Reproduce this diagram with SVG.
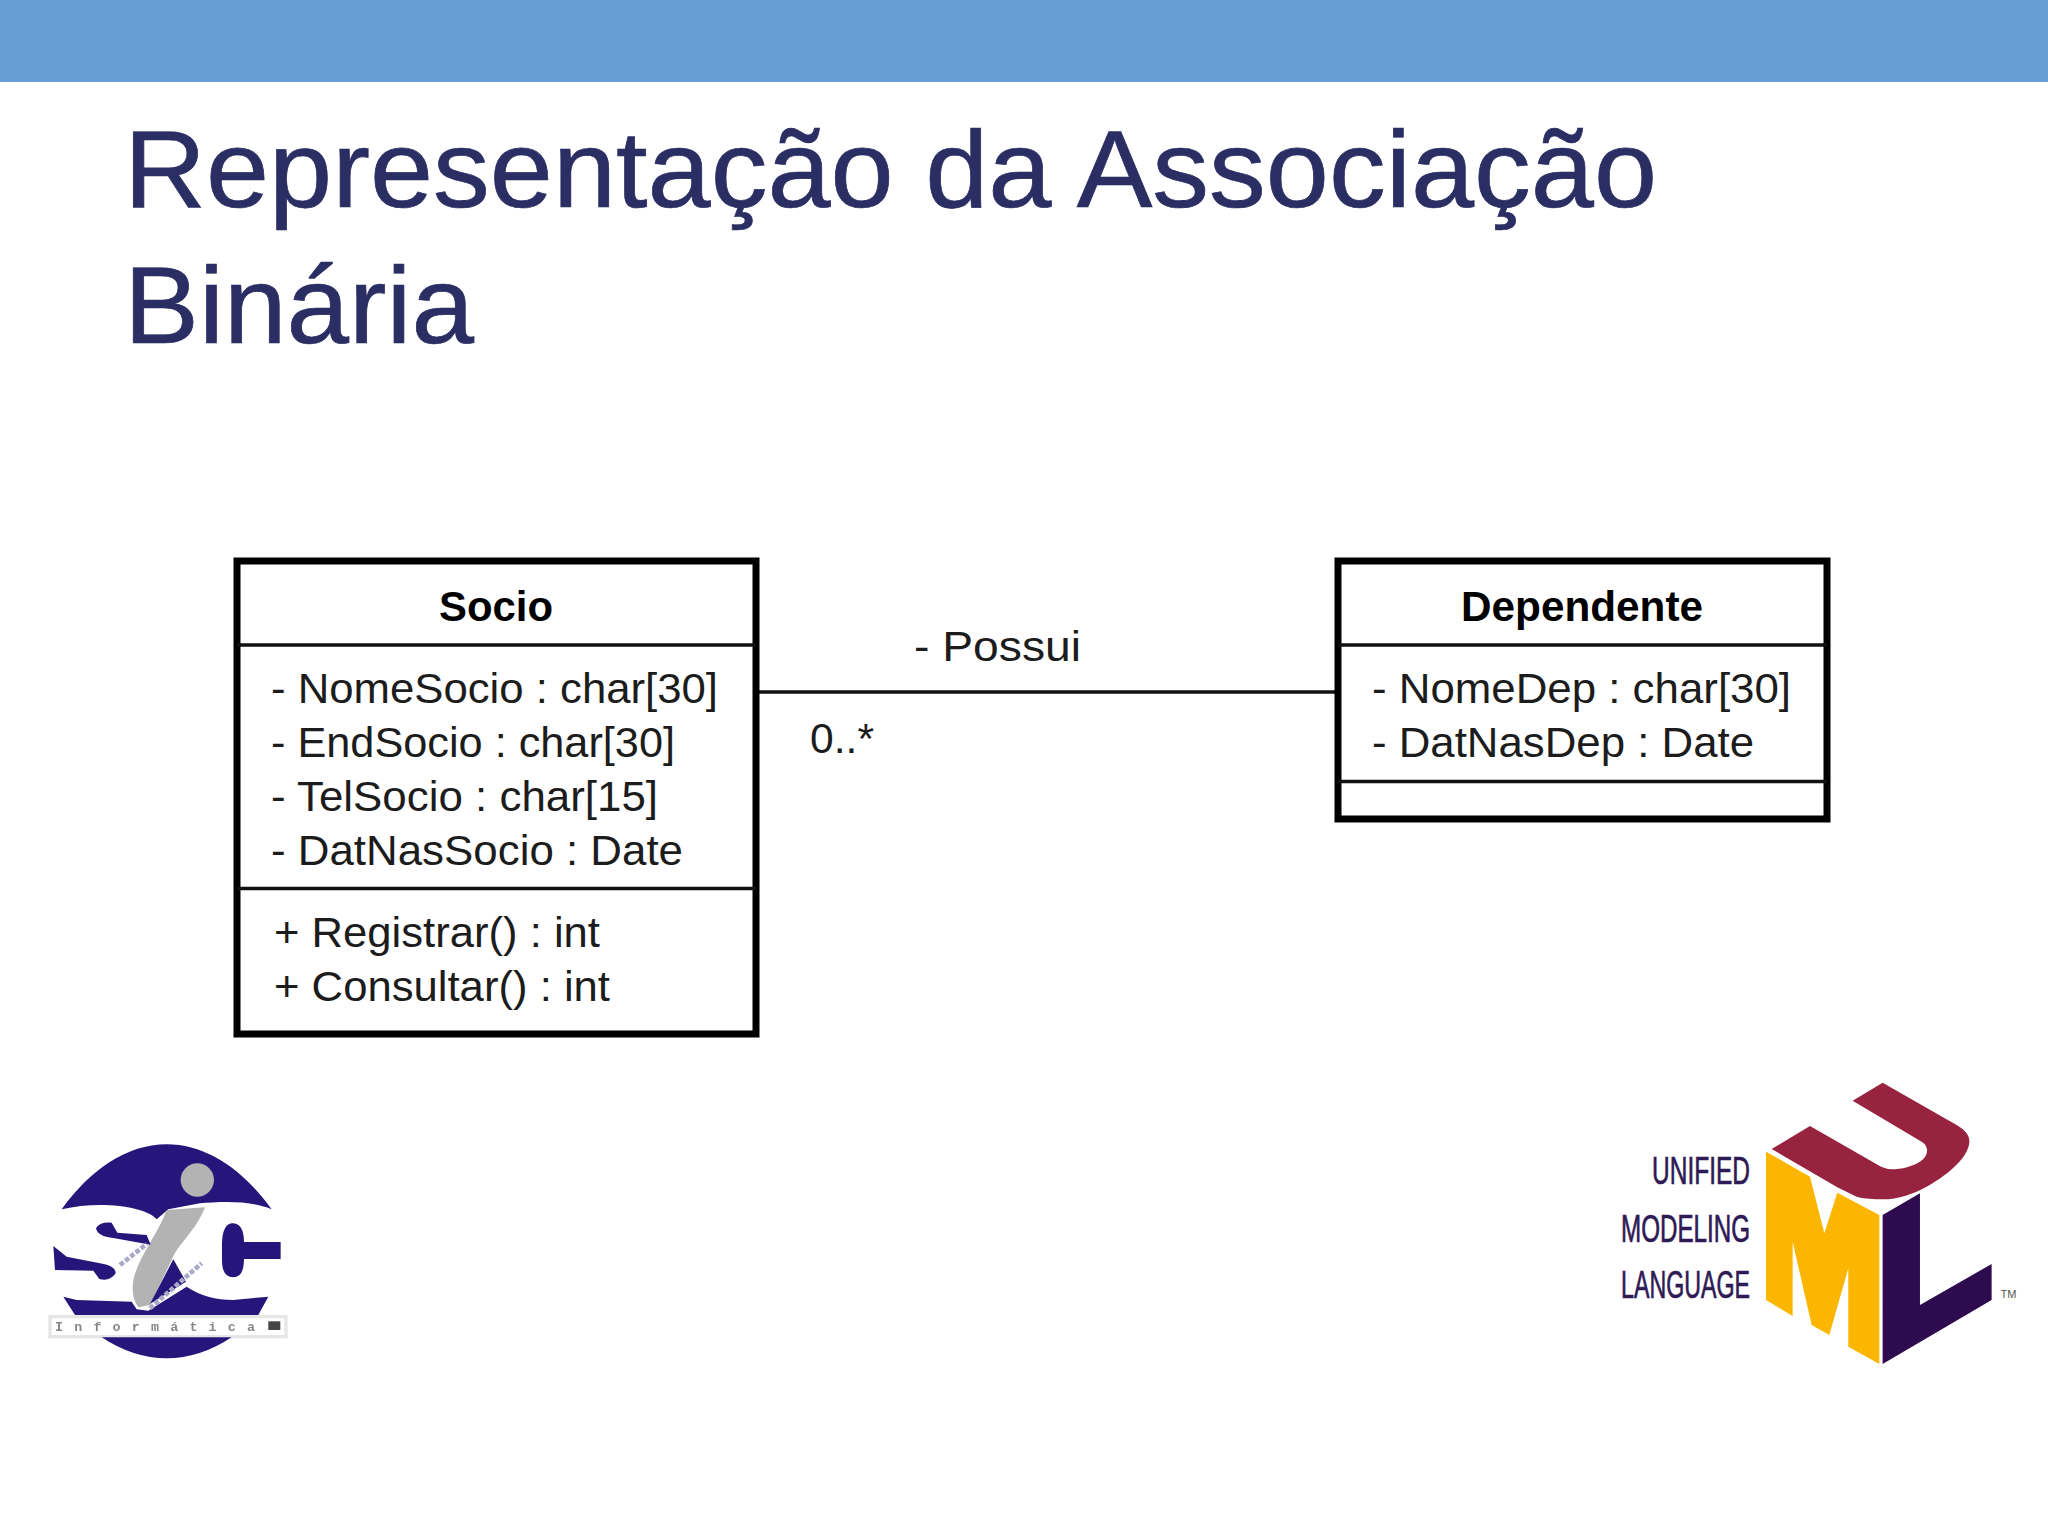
<svg xmlns="http://www.w3.org/2000/svg" width="2048" height="1536" viewBox="0 0 2048 1536">
<defs><filter id="soft" x="-5%" y="-5%" width="110%" height="110%"><feGaussianBlur stdDeviation="0.9"/></filter></defs>
<style>
.title{font-family:"Liberation Sans",Arial,sans-serif;font-size:109px;fill:#2a2e63;stroke:#2a2e63;stroke-width:.7}
.t{font-family:"Liberation Sans",Arial,sans-serif;font-size:42px;fill:#1c1c1c}
.b{font-family:"Liberation Sans",Arial,sans-serif;font-size:42px;font-weight:bold;fill:#000;text-anchor:middle}
.box{fill:#fff;stroke:#000;stroke-width:7}
.div{stroke:#111;stroke-width:3.5;fill:none}
.conn{stroke:#111;stroke-width:3.5;fill:none}
.navy{fill:#26167c}
.lg{font-family:"Liberation Sans",Arial,sans-serif;font-size:38px;fill:#2e1a55;stroke:#2e1a55;stroke-width:.7;text-anchor:end}
</style>
<rect width="2048" height="1536" fill="#fff"/>
<rect id="band" width="2048" height="82" fill="#659fd3"/>
<text class="title" x="124" y="207" textLength="1533" lengthAdjust="spacingAndGlyphs">Representação da Associação</text>
<text class="title" x="124" y="343" textLength="350" lengthAdjust="spacingAndGlyphs">Binária</text>

<g id="connectors">
<line class="conn" x1="758" y1="692" x2="1336" y2="692"/>
<text class="t" x="914" y="661" textLength="167" lengthAdjust="spacingAndGlyphs">- Possui</text>
<text class="t" x="810" y="753" textLength="64" lengthAdjust="spacingAndGlyphs">0..*</text>
</g>

<g id="socio">
<rect class="box" x="237" y="561" width="519" height="473"/>
<line class="div" x1="237" y1="645" x2="756" y2="645"/>
<line class="div" x1="237" y1="888.5" x2="756" y2="888.5"/>
<text class="b" x="496" y="621" textLength="114" lengthAdjust="spacingAndGlyphs">Socio</text>
<text class="t" x="271" y="703" textLength="447" lengthAdjust="spacingAndGlyphs">- NomeSocio : char[30]</text>
<text class="t" x="271" y="757" textLength="404" lengthAdjust="spacingAndGlyphs">- EndSocio : char[30]</text>
<text class="t" x="271" y="811" textLength="387" lengthAdjust="spacingAndGlyphs">- TelSocio : char[15]</text>
<text class="t" x="271" y="865" textLength="412" lengthAdjust="spacingAndGlyphs">- DatNasSocio : Date</text>
<text class="t" x="274" y="947" textLength="326" lengthAdjust="spacingAndGlyphs">+ Registrar() : int</text>
<text class="t" x="274" y="1001" textLength="336" lengthAdjust="spacingAndGlyphs">+ Consultar() : int</text>
</g>

<g id="dependente">
<rect class="box" x="1338" y="561" width="489" height="258"/>
<line class="div" x1="1338" y1="645" x2="1827" y2="645"/>
<line class="div" x1="1338" y1="781.5" x2="1827" y2="781.5"/>
<text class="b" x="1582" y="621" textLength="242" lengthAdjust="spacingAndGlyphs">Dependente</text>
<text class="t" x="1372" y="703" textLength="419" lengthAdjust="spacingAndGlyphs">- NomeDep : char[30]</text>
<text class="t" x="1372" y="757" textLength="382" lengthAdjust="spacingAndGlyphs">- DatNasDep : Date</text>
</g>

<g id="logo-sic" transform="translate(0 1100) scale(.3333)" filter="url(#soft)">
<path class="navy" d="M185,328 C270,210 380,133 500,133 C620,133 730,210 815,328 C750,300 660,305 600,310 L505,328 L470,358 C440,320 300,300 185,328Z"/>
<path d="M500,330 L615,322 C590,390 535,430 515,480 L450,615 L415,622 Q392,590 400,540 C415,470 475,400 500,330Z" fill="#b3b3b3"/>
<circle cx="592" cy="240" r="50" fill="#b3b3b3"/>
<path class="navy" d="M288,385 Q298,365 335,368 L352,398 L440,405 452,434 L340,414 Q293,410 288,385Z"/>
<path class="navy" d="M160,438 L200,470 L300,490 Q348,498 347,520 Q330,545 298,537 L280,512 L165,510Z"/>
<path class="navy" d="M666,430 Q668,368 700,370 Q732,373 732,426 L842,426 L842,477 L732,477 Q732,532 700,532 Q666,532 666,480Z"/>
<path class="navy" d="M520,478 L558,545 L450,612Z"/>
<path class="navy" d="M190,590 L230,600 L395,605 L410,628 L445,632 L560,560 Q620,600 700,600 L805,590 L775,645 L225,645Z"/>
<path d="M360,495 L440,432 M450,625 L605,490" stroke="#a9a9c8" stroke-width="14" stroke-dasharray="14 6" fill="none"/>
<rect x="150" y="650" width="708" height="60" fill="#fff" stroke="#e6e6e6" stroke-width="10"/>
<text x="165" y="692" font-family="Liberation Mono, monospace" font-size="40" font-weight="bold" fill="#888" textLength="600" lengthAdjust="spacing">Informática</text>
<rect x="805" y="664" width="36" height="26" fill="#444"/>
<path class="navy" d="M305,712 L695,712 Q600,775 500,775 Q400,775 305,712Z"/>
</g>

<g id="logo-uml" transform="translate(1580 1060) scale(.3333)">
<text class="lg" transform="translate(510 372) scale(3)" x="0" y="0" textLength="98" lengthAdjust="spacingAndGlyphs">UNIFIED</text>
<text class="lg" transform="translate(510 545) scale(3)" x="0" y="0" textLength="129" lengthAdjust="spacingAndGlyphs">MODELING</text>
<text class="lg" transform="translate(510 715) scale(3)" x="0" y="0" textLength="129" lengthAdjust="spacingAndGlyphs">LANGUAGE</text>
<path d="M558,275 L690,350 L733,520 L772,398 L898,465 L898,912 L805,860 L805,625 L748,825 L695,795 L638,545 L638,768 L558,720Z" fill="#fdb600"/>
<path d="M908,465 L1020,400 L1020,735 L1235,612 L1235,720 L908,912Z" fill="#2e0a4e"/>
<path d="M575,267 L690,198 L885,310 C905,322 920,328 935,328 C965,328 1000,318 1020,305 C1045,290 1050,260 1025,245 L818,122 L908,68 L1130,195 C1160,212 1170,230 1168,248 C1165,285 1120,335 1040,380 C1000,402 950,420 900,418 C870,417 845,415 830,410 L772,382Z" fill="#97233f"/>
<text x="1262" y="714" font-family="Liberation Sans, Arial, sans-serif" font-size="33" fill="#555">TM</text>
</g>
</svg>
